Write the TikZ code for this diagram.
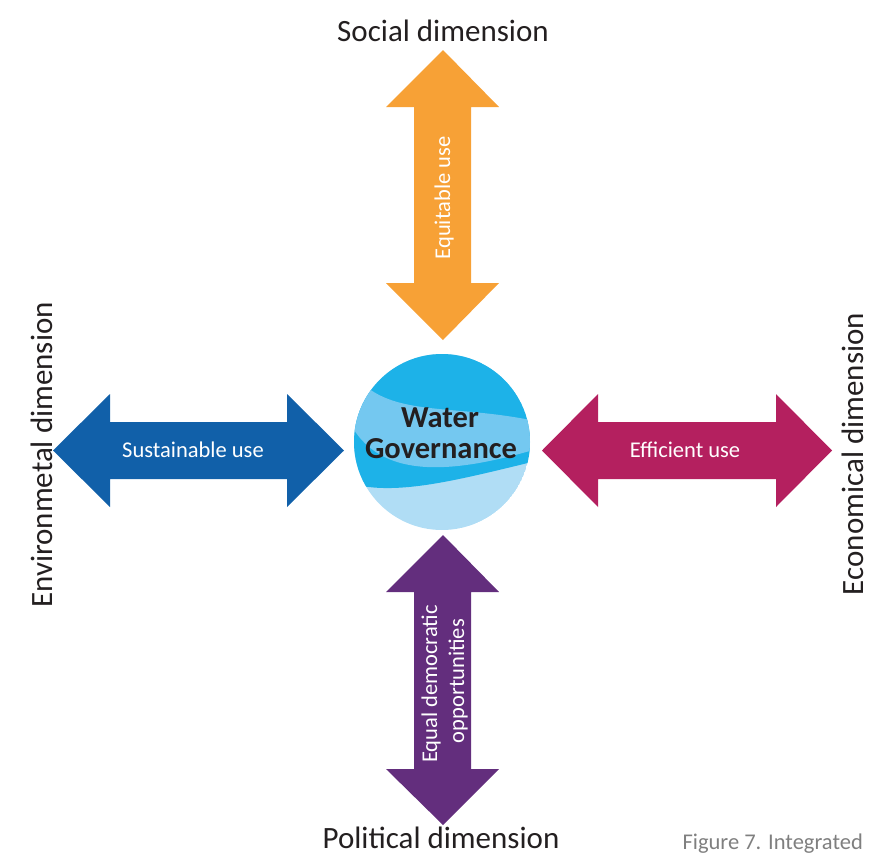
\documentclass[tikz,border=0pt]{standalone}
\usepackage{fontspec}
\setmainfont{Carlito}
\definecolor{orangeA}{HTML}{F7A136}
\definecolor{blueA}{HTML}{1160A9}
\definecolor{magentaA}{HTML}{B4205F}
\definecolor{purpleA}{HTML}{632E7D}
\definecolor{waterDark}{HTML}{1DB2E8}
\definecolor{waterMid}{HTML}{74C8F0}
\definecolor{waterPale}{HTML}{B0DDF5}
\definecolor{textDark}{HTML}{231F20}
\definecolor{captionGray}{HTML}{7F7F7F}
\tikzset{
  dimlabel/.style={font=\fontsize{31}{36}\selectfont, text=textDark, inner sep=0pt},
  innerlabel/.style={font=\fontsize{22.5}{27}\selectfont, text=white, inner sep=0pt},
  wglabel/.style={font=\bfseries\fontsize{30.5}{31}\selectfont, text=textDark, inner sep=0pt},
  caplabel/.style={font=\fontsize{22.5}{27}\selectfont, text=captionGray, inner sep=0pt}
}
\begin{document}
\begin{tikzpicture}[x=1pt,y=-1pt]
\useasboundingbox (0,0) rectangle (871,857);
% top arrow (social)
\fill[orangeA] (443,50) -- (499,107) -- (471,107) -- (471,283) -- (499,283) -- (443,340)
  -- (386,283) -- (414,283) -- (414,107) -- (386,107) -- cycle;
% bottom arrow (political)
\fill[purpleA] (443,535) -- (499,592) -- (471,592) -- (471,769) -- (499,769) -- (443,825)
  -- (386,769) -- (414,769) -- (414,592) -- (386,592) -- cycle;
% left arrow (environmental)
\fill[blueA] (53,450.5) -- (110,394) -- (110,422) -- (287,422) -- (287,394) -- (344,450.5)
  -- (287,507) -- (287,479) -- (110,479) -- (110,507) -- cycle;
% right arrow (economical)
\fill[magentaA] (542,450.5) -- (598,394) -- (598,422) -- (776,422) -- (776,394) -- (832,450.5)
  -- (776,507) -- (776,479) -- (598,479) -- (598,507) -- cycle;
% water circle
\begin{scope}
  \clip (442,442) circle (88);
  \fill[waterPale] (442,442) circle (88);
  \fill[waterDark] (340,340) -- (345,482) .. controls (392,497) and (450,482) .. (540,460)
    -- (540,340) -- cycle;
  \fill[waterMid] (352,372) .. controls (388,420) and (450,402) .. (540,422) -- (540,448)
    .. controls (450,475) and (372,482) .. (345,412) -- cycle;
\end{scope}
\node[wglabel, anchor=base] (water) at (440,427) {Water};
\node[wglabel, anchor=base] (gov) at (441,458) {Governance};
% dimension labels
\node[dimlabel, anchor=base] (social) at (443,41) {Social dimension};
\node[dimlabel, anchor=base] (political) at (441,848) {Political dimension};
\node[dimlabel, anchor=base, rotate=90] (env) at (52,455) {Environmetal dimension};
\node[dimlabel, anchor=base, rotate=90] (econ) at (863,454) {Economical dimension};
% inner labels
\node[innerlabel, anchor=base] (sust) at (193,457) {Sustainable use};
\node[innerlabel, anchor=base] (eff) at (685,457) {Efficient use};
\node[innerlabel, anchor=base, rotate=90] (equit) at (450,198) {Equitable use};
\node[innerlabel, anchor=base, rotate=90] (demo1) at (437,684) {Equal democratic};
\node[innerlabel, anchor=base, rotate=90] (demo2) at (464,681) {opportunities};
% caption
\node[caplabel, anchor=base east] (caption) at (863,849) {Figure 7. Integrated};
\end{tikzpicture}
\end{document}
